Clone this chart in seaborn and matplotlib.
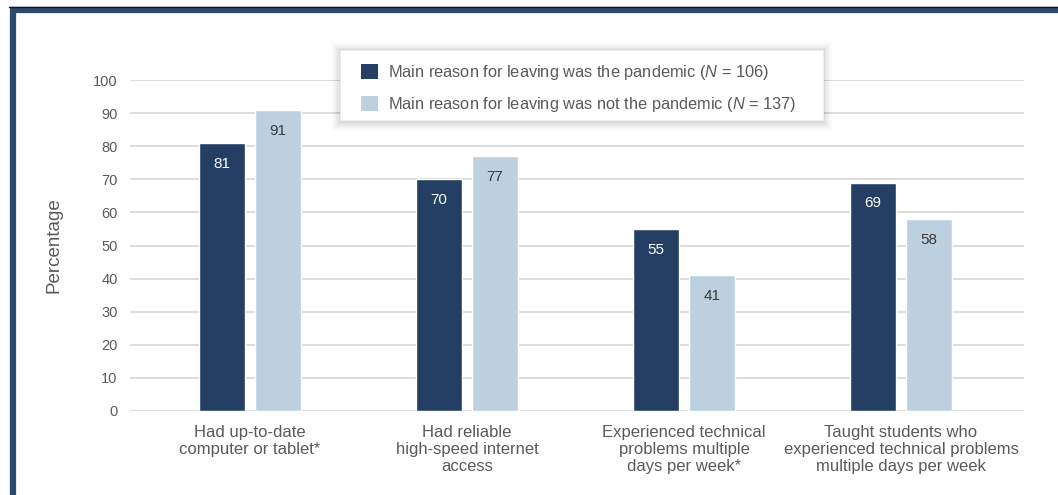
import matplotlib
matplotlib.use("Agg")
import matplotlib.pyplot as plt
from matplotlib.patches import Rectangle
from matplotlib.lines import Line2D
import seaborn as sns
import pandas as pd

categories = [
    "Had up-to-date\ncomputer or tablet*",
    "Had reliable\nhigh-speed internet\naccess",
    "Experienced technical\nproblems multiple\ndays per week*",
    "Taught students who\nexperienced technical problems\nmultiple days per week",
]
groups = [
    "Main reason for leaving was the pandemic ($\\it{N}$ = 106)",
    "Main reason for leaving was not the pandemic ($\\it{N}$ = 137)",
]
pandemic = [81, 70, 55, 69]
not_pandemic = [91, 77, 41, 58]
yticks = [0, 10, 20, 30, 40, 50, 60, 70, 80, 90, 100]

dark = "#243f63"
light = "#bcd0e0"
text_gray = "#5a5a5a"

sns.set_theme(style="white")
plt.rcParams["font.family"] = ["Liberation Sans", "DejaVu Sans"]
plt.rcParams["mathtext.fontset"] = "custom"
plt.rcParams["mathtext.it"] = "Liberation Sans:italic"
plt.rcParams["mathtext.rm"] = "Liberation Sans"

df = pd.DataFrame({
    "category": categories * 2,
    "group": [groups[0]] * 4 + [groups[1]] * 4,
    "value": pandemic + not_pandemic,
})

W, H = 1058, 495
fig = plt.figure(figsize=(W / 100, H / 100), dpi=100)
fig.patch.set_facecolor("white")
ax = fig.add_axes([130 / W, (H - 411) / H, 894 / W, 331 / H])


def px(x, y):
    """Pixel position (from top-left) to figure fraction."""
    return x / W, 1 - y / H


sns.barplot(data=df, x="category", y="value", hue="group",
            palette=[dark, light], width=0.516, gap=0.178,
            saturation=1, ax=ax, legend=False)

ax.set_xlim(-0.553, 3.567)
ax.set_ylim(0, 100)
ax.set_yticks(yticks)
ax.set_yticklabels([str(t) for t in yticks], fontsize=10.5, color=text_gray)
ax.grid(axis="y", color="#dcdcdc", linewidth=1.4)
ax.set_axisbelow(True)
for s in ax.spines.values():
    s.set_visible(False)
ax.tick_params(axis="y", length=0, pad=9)
ax.tick_params(axis="x", length=0, pad=10)
ax.set_xticks(range(len(categories)))
ax.set_xticklabels(categories, fontsize=12, color=text_gray, linespacing=1.18)
ax.set_xlabel("")
ax.set_ylabel("Percentage", fontsize=13.5, color=text_gray, labelpad=22)

# value labels inside the tops of the bars
for container, txt_color in zip(ax.containers, ["white", "#3a3a3a"]):
    ax.bar_label(container, labels=[f"{v:.0f}" for v in container.datavalues],
                 padding=-20, color=txt_color, fontsize=11)

# legend box with a soft shadow
bx0, by0, bx1, by1 = 340, 50, 823, 120
for i, a in enumerate([0.035, 0.03, 0.025, 0.02, 0.015, 0.01]):
    g = 1.5 * (i + 1)
    x0, y0 = px(bx0 - g, by1 + g + 2)
    x1, y1 = px(bx1 + g, by0 - g + 1)
    ax.add_patch(Rectangle((x0, y0), x1 - x0, y1 - y0, transform=fig.transFigure,
                           facecolor="black", alpha=a, edgecolor="none",
                           clip_on=False, zorder=4))
x0, y0 = px(bx0, by1)
x1, y1 = px(bx1, by0)
ax.add_patch(Rectangle((x0, y0), x1 - x0, y1 - y0, transform=fig.transFigure,
                       facecolor="white", edgecolor="#f0f0f0", linewidth=0.6,
                       clip_on=False, zorder=4.5))

handles = [Rectangle((0, 0), 1, 1, facecolor=c, edgecolor="none") for c in (dark, light)]
leg = ax.legend(handles, groups, loc="upper left",
                bbox_to_anchor=px(361, 63), bbox_transform=fig.transFigure,
                fontsize=11.8, frameon=False,
                handlelength=1.05, handleheight=1.0, handletextpad=0.6,
                borderpad=0, labelspacing=0.8, borderaxespad=0)
for t in leg.get_texts():
    t.set_color(text_gray)
leg.set_zorder(5)

# outer frame of the panel
fig.add_artist(Line2D([0.0105, 1.0], [1 - 10 / H, 1 - 10 / H], transform=fig.transFigure,
                      color="#2c4a6c", linewidth=4.5, solid_capstyle="butt"))
fig.add_artist(Line2D([13 / W, 13 / W], [0.0, 1 - 8 / H], transform=fig.transFigure,
                      color="#2c4a6c", linewidth=4.5, solid_capstyle="butt"))
fig.add_artist(Line2D([0.0085, 1.0], [1 - 7 / H, 1 - 7 / H], transform=fig.transFigure,
                      color="#111111", linewidth=1.0))

fig.savefig("out.png", dpi=100, facecolor="white")
